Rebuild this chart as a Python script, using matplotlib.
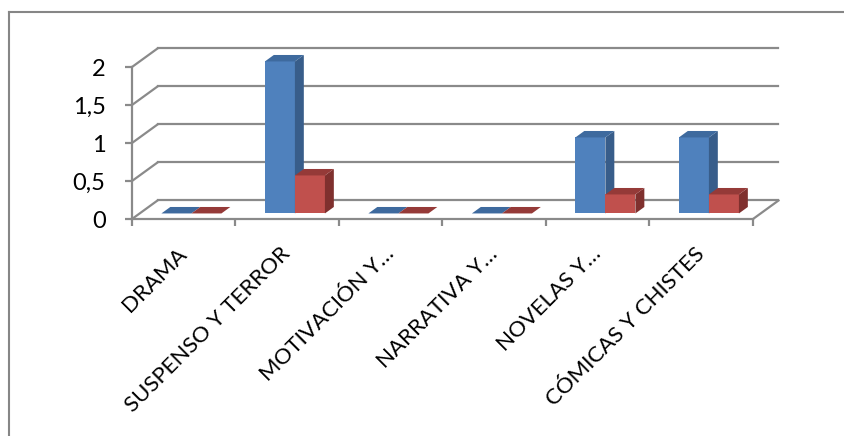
import numpy as np
import matplotlib
matplotlib.use("Agg")
from matplotlib import pyplot as plt
from matplotlib.patches import Polygon
from matplotlib.lines import Line2D

###Datos###
categorias = ["DRAMA", "SUSPENSO Y TERROR", "MOTIVACIÓN Y…", "NARRATIVA Y…",
              "NOVELAS Y…", "CÓMICAS Y CHISTES"]
serie1 = [0, 2, 0, 0, 1, 1]
serie2 = [0, 0.5, 0, 0, 0.25, 0.25]
yticks = [0, 0.5, 1, 1.5, 2]
yticklabels = ["0", "0,5", "1", "1,5", "2"]

###Estilo###
plt.rcParams['font.family'] = ['Lato', 'DejaVu Sans']
gris = '#8a8a8a'
colores = [('#4F81BD', '#385D8A', '#3E6A9E'),   # frente, lado, arriba
           ('#C0504D', '#7F302E', '#953A38')]

fig = plt.figure(figsize=(8.44, 4.36), dpi=100)
W, H = 844.0, 436.0
ax = fig.add_axes([132 / W, (H - 219) / H, (753 - 132) / W, (219 - 67) / H])
n = len(categorias)
ax.set_xlim(0, n)
ax.set_ylim(0, 2)

# profundidad (vector de fondo) en unidades de datos
DX = 25.5 / 103.5
DY = 18.5 / 76.0

def proy(x, y, d):
    return (x + d * DX, y + d * DY)

###Paredes y grilla###
for v in yticks:
    # pared lateral
    ax.add_line(Line2D([0, DX], [v, v + DY], color=gris, lw=1.6, clip_on=False, zorder=1))
    # pared de fondo
    ax.add_line(Line2D([DX, n + DX], [v + DY, v + DY], color=gris, lw=1.6, clip_on=False, zorder=1))
# borde derecho del piso
ax.add_line(Line2D([n, n + DX], [0, DY], color=gris, lw=1.6, clip_on=False, zorder=1))

###Barras###
ancho = 0.29
d0, d1 = 0.30, 0.65
for i in range(n):
    for k, vals in enumerate([serie1, serie2]):
        h = vals[i]
        x0 = i + 0.21 + k * ancho
        x1 = x0 + ancho
        frente, lado, arriba = colores[k]
        if h > 0:
            ax.add_patch(Polygon([proy(x0, 0, d0), proy(x1, 0, d0), proy(x1, h, d0), proy(x0, h, d0)],
                                 closed=True, fc=frente, ec='none', clip_on=False, zorder=3))
            ax.add_patch(Polygon([proy(x1, 0, d0), proy(x1, 0, d1), proy(x1, h, d1), proy(x1, h, d0)],
                                 closed=True, fc=lado, ec='none', clip_on=False, zorder=3))
        ax.add_patch(Polygon([proy(x0, h, d0), proy(x1, h, d0), proy(x1, h, d1), proy(x0, h, d1)],
                             closed=True, fc=arriba, ec='none', clip_on=False, zorder=3))

###Ejes###
for s in ['top', 'right']:
    ax.spines[s].set_visible(False)
for s in ['left', 'bottom']:
    ax.spines[s].set_color(gris)
    ax.spines[s].set_linewidth(1.6)
    ax.spines[s].set_zorder(2)
ax.patch.set_visible(False)

ax.set_yticks(yticks)
ax.set_yticklabels(yticklabels, fontsize=17)
ax.set_xticks(np.arange(n + 1))
ax.set_xticklabels([])
ax.set_xticks(np.arange(n) + 0.5, minor=True)
ax.set_xticklabels(categorias, minor=True, rotation=45, ha='right', va='center',
                   rotation_mode='anchor', fontsize=16)
ax.tick_params(axis='y', length=5, width=1.6, color=gris, pad=14)
ax.tick_params(axis='x', which='major', length=5, width=1.6, color=gris)
ax.tick_params(axis='x', which='minor', length=0, pad=23)

###Marco###
fig.add_artist(Line2D([8.5 / W, 8.5 / W], [0, (H - 12) / H], color='#868686', lw=1.5))
fig.add_artist(Line2D([8.5 / W, 1], [(H - 12) / H, (H - 12) / H], color='#868686', lw=1.5))

plt.savefig("out.png", dpi=100)
